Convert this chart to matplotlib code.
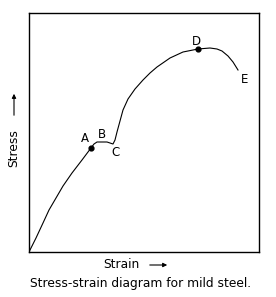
import matplotlib
matplotlib.use("Agg")
import matplotlib.pyplot as plt

# Curve (arbitrary units)
strain = [0, 7, 14, 20, 27, 34, 43, 53, 62, 65, 68, 78, 84, 86, 88, 91, 94, 99, 106, 114, 121, 128, 141, 154, 169, 181, 188, 193, 199, 204, 209]
stress = [0, 14, 29, 42, 54, 66, 79, 92, 104, 108, 110, 110, 108, 112, 120, 131, 142, 153, 163, 172, 179, 185, 194, 200, 203, 204, 203, 201, 196, 190, 182]
point_names = ["A", "D"]
point_strain = [62, 169]
point_stress = [104, 203]
label_names = ["A", "B", "C", "D", "E"]
label_strain = [56, 73, 86, 167, 216]
label_stress = [114, 118, 100, 211, 173]

fig = plt.figure(figsize=(2.76, 2.97), dpi=100)
ax = fig.add_axes([29/276, 45/297, 230/276, 239/297])
ax.plot(strain, stress, color="black", lw=0.8)
ax.scatter(point_strain, point_stress, s=12, color="black", zorder=3)
for n, x, y in zip(label_names, label_strain, label_stress):
    ax.text(x, y, n, ha="center", va="center", fontsize=8.5, color="black")
ax.set_xlim(0, 230)
ax.set_ylim(0, 239)
ax.set_xticks([])
ax.set_yticks([])
for s in ax.spines.values():
    s.set_linewidth(1.0)

fig.text(121/276, 1-264/297, "Strain", ha="center", va="center", fontsize=8.8)
fig.add_artist(matplotlib.patches.FancyArrowPatch((147/276, 1-265/297), (170/276, 1-265/297),
               transform=fig.transFigure, arrowstyle="-|>", mutation_scale=6, lw=0.8, color="black"))
fig.text(14/276, 1-148/297, "Stress", ha="center", va="center", rotation=90, fontsize=8.8)
fig.add_artist(matplotlib.patches.FancyArrowPatch((14/276, 1-118/297), (14/276, 1-91/297),
               transform=fig.transFigure, arrowstyle="-|>", mutation_scale=6, lw=0.8, color="black"))
fig.text(141/276, 1-283/297, "Stress-strain diagram for mild steel.", ha="center", va="center", fontsize=8.8)

fig.savefig("out.png", dpi=100)
